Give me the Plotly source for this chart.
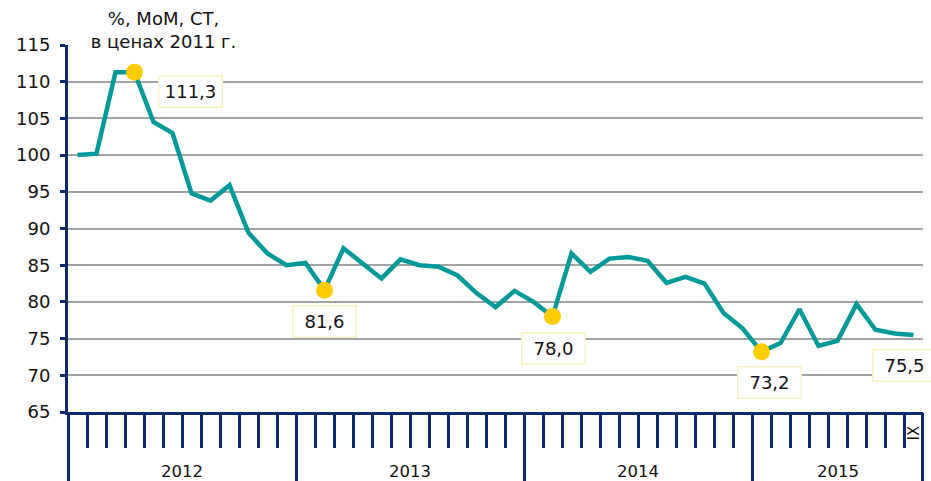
import plotly.graph_objects as go

# ---- data ----
years = ["2012", "2013", "2014", "2015"]
months_per_year = [12, 12, 12, 9]
last_month_label = "IX"
values = [100.0, 100.2, 111.3, 111.3, 104.5, 103.0, 94.8, 93.8, 95.9, 89.4, 86.6, 85.0,
          85.3, 81.6, 87.3, 85.3, 83.2, 85.8, 85.0, 84.8, 83.6, 81.2, 79.3, 81.5,
          80.0, 78.0, 86.6, 84.1, 85.9, 86.1, 85.6, 82.6, 83.4, 82.5, 78.5, 76.4,
          73.2, 74.4, 79.0, 74.0, 74.7, 79.7, 76.2, 75.7, 75.5]
highlight_idx = [3, 13, 25, 36]
label_idx = [3, 13, 25, 36, 44]
title_text = "%, МоМ, СТ,<br>в ценах 2011 г."
y_min, y_max, y_step = 65, 115, 5

# ---- styles ----
NAVY = "#0B2A6B"
TEAL = "#00999A"
GOLD = "#FFCC00"
GRID = "#A3A3A3"
FONT = "DejaVu Sans"
label_shifts = {3: (56, -19), 13: (0, -31), 25: (1, -32), 36: (8, -31), 44: (-9, -31)}

x = list(range(len(values)))
n = len(values)

# boundaries
month_bounds = [i + 0.5 for i in range(n - 1)]
year_bounds = [-0.5]
acc = 0
year_centers = []
for m in months_per_year:
    year_centers.append(acc + m / 2 - 0.5)
    acc += m
    year_bounds.append(acc - 0.5)
year_bounds[0] += 0.01
year_bounds[-1] -= 0.01

fig = go.Figure()
fig.add_trace(go.Scatter(x=x, y=values, mode="lines",
                         line=dict(color=TEAL, width=4.5), hoverinfo="skip",
                         showlegend=False))
fig.add_trace(go.Scatter(x=[x[i] for i in highlight_idx],
                         y=[values[i] for i in highlight_idx], mode="markers",
                         marker=dict(color=GOLD, size=17, line=dict(width=0)),
                         hoverinfo="skip", showlegend=False))
# invisible trace to activate the second x axis (year boundaries)
fig.add_trace(go.Scatter(x=x, y=values, xaxis="x2", mode="lines",
                         line=dict(width=0), opacity=0, hoverinfo="skip",
                         showlegend=False))

plot_h = 481 - 45 - 69

annotations = []
for i in label_idx:
    dx, dy = label_shifts[i]
    annotations.append(dict(
        x=x[i], y=values[i], xref="x", yref="y",
        text=f"{values[i]:.1f}".replace(".", ","), showarrow=False,
        xshift=dx, yshift=dy,
        font=dict(family=FONT, size=18, color="#111111"),
        bgcolor="white", bordercolor="#F6F2BE", borderwidth=1.5,
        borderpad=2, width=58, height=26))

for yr, c in zip(years, year_centers):
    annotations.append(dict(x=c, y=-(471 - 412) / plot_h, xref="x", yref="paper",
                            text=yr, showarrow=False, yanchor="middle",
                            font=dict(family=FONT, size=16.5, color="#111111")))
annotations.append(dict(x=n - 1, y=-(433 - 412) / plot_h, xref="x", yref="paper",
                        text=last_month_label, showarrow=False, textangle=-90,
                        yanchor="middle",
                        font=dict(family=FONT, size=15, color="#111111")))
annotations.append(dict(x=(163 - 68) / 855, y=1 + (45 - 30) / plot_h,
                        xref="paper", yref="paper", text=title_text,
                        showarrow=False, yanchor="middle", xanchor="center",
                        bgcolor="white", borderpad=0, width=165,
                        font=dict(family=FONT, size=18, color="#111111")))

fig.update_layout(
    width=931, height=481,
    margin=dict(l=68, r=8, t=45, b=69, pad=0, autoexpand=False),
    plot_bgcolor="white", paper_bgcolor="white",
    font=dict(family=FONT, size=17, color="#111111"),
    xaxis=dict(range=[-0.5, n - 0.5], tickvals=month_bounds, ticks="outside",
               ticklen=33, tickwidth=3, tickcolor=NAVY, showticklabels=False,
               showline=True, linecolor=NAVY, linewidth=3, showgrid=False,
               zeroline=False, fixedrange=True, automargin=False),
    xaxis2=dict(range=[-0.5, n - 0.5], overlaying="x", anchor="y", side="bottom",
                tickvals=year_bounds, ticks="outside", ticklen=69, tickwidth=3,
                tickcolor=NAVY, showticklabels=False, showline=False,
                showgrid=False, zeroline=False, fixedrange=True, automargin=False),
    yaxis=dict(range=[y_min, y_max], tickvals=list(range(y_min, y_max + 1, y_step)),
               ticks="outside", ticklen=5, tickwidth=3, tickcolor=NAVY,
               showline=True, linecolor=NAVY, linewidth=3,
               showgrid=True, gridcolor=GRID, gridwidth=2, zeroline=False,
               ticklabelstandoff=6, tickfont=dict(family=FONT, size=18, color="#111111"),
               fixedrange=True, automargin=False),
    annotations=annotations,
    showlegend=False,
)

fig.write_html("out.html", config={"displayModeBar": False},
               post_script="document.body.style.margin='0';document.body.style.overflow='hidden';")
